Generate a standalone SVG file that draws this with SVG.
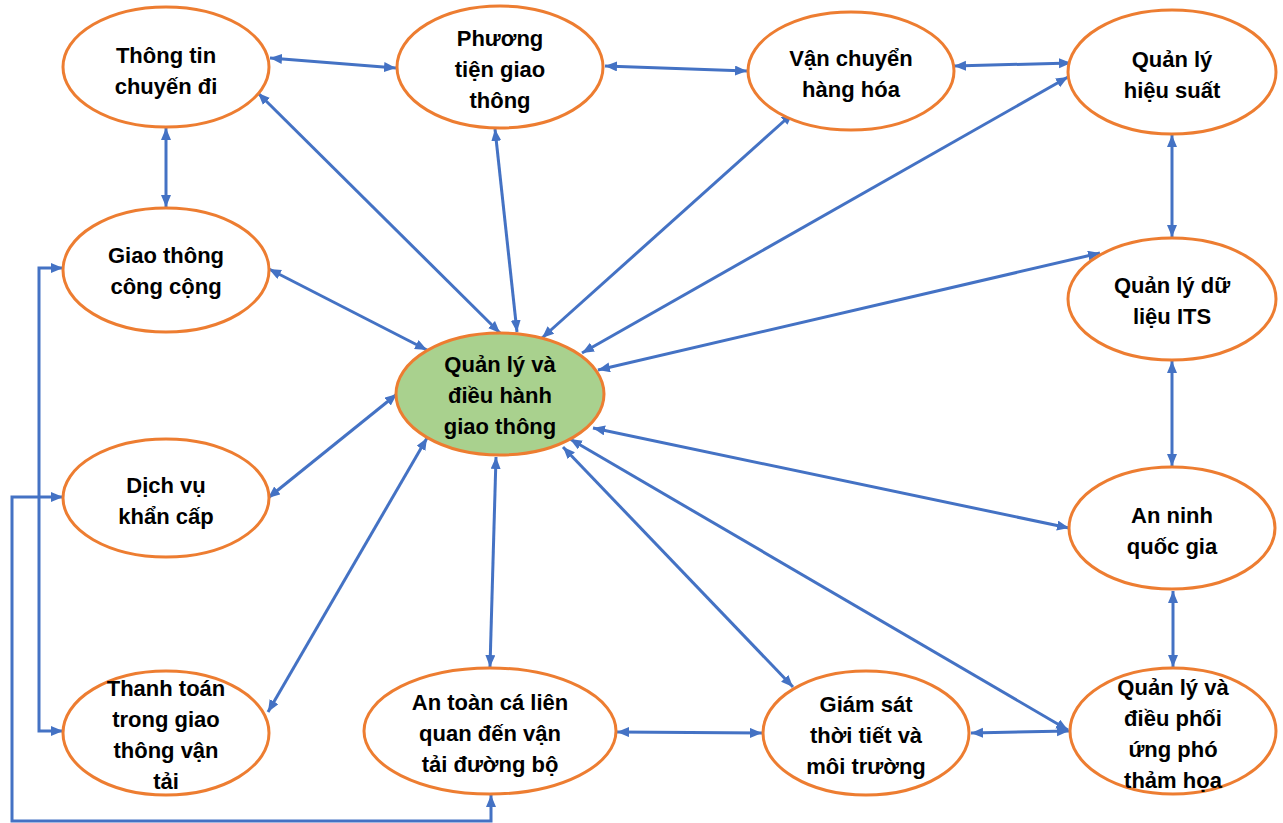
<svg xmlns="http://www.w3.org/2000/svg" width="1283" height="823" viewBox="0 0 1283 823">
<style>
.n ellipse{fill:#ffffff;stroke:#ed7d31;stroke-width:3}
#center ellipse{fill:#a9d18e}
.n text{font-family:"Liberation Sans",Arial,sans-serif;font-weight:bold;font-size:22px;fill:#000;text-anchor:middle}
#edges line,#edges path{stroke:#4472c4;stroke-width:3;fill:none;marker-start:url(#ah);marker-end:url(#ah)}
</style>
<defs>
<marker id="ah" markerUnits="userSpaceOnUse" markerWidth="13" markerHeight="11" refX="12" refY="5" orient="auto-start-reverse" viewBox="0 0 13 11">
<path d="M0,0 L12,5 L0,10 z" fill="#4472c4"/>
</marker>
</defs>
<rect width="1283" height="823" fill="#ffffff"/>
<g id="edges">
<line x1="270" y1="58" x2="396" y2="68"/>
<line x1="605" y1="66" x2="747" y2="71"/>
<line x1="954" y1="66" x2="1071" y2="63"/>
<line x1="166" y1="128" x2="166" y2="207"/>
<line x1="1172" y1="135" x2="1172" y2="237"/>
<line x1="1172" y1="361" x2="1172" y2="466"/>
<line x1="1173" y1="591" x2="1173" y2="667"/>
<line x1="617" y1="732" x2="762" y2="733"/>
<line x1="971" y1="733" x2="1069" y2="731"/>
<line x1="258" y1="93" x2="500" y2="333"/>
<line x1="495" y1="129" x2="517" y2="332"/>
<line x1="793" y1="113" x2="542" y2="338"/>
<line x1="1068" y1="77" x2="582" y2="353"/>
<line x1="1100" y1="253" x2="598" y2="370"/>
<line x1="269" y1="269" x2="427" y2="350"/>
<line x1="268" y1="498" x2="397" y2="394"/>
<line x1="268" y1="712" x2="427" y2="438"/>
<line x1="496" y1="457" x2="490" y2="667"/>
<line x1="563" y1="447" x2="793" y2="687"/>
<line x1="570" y1="439" x2="1068" y2="730"/>
<line x1="593" y1="428" x2="1069" y2="528"/>
<path d="M63,268 H39 V731 H63"/>
<path d="M63,497 H12 V821 H491 V795"/>
</g>
<g id="thongtin" class="n"><ellipse cx="166" cy="67" rx="103" ry="60"/><text x="166" y="63">Thông tin</text><text x="166" y="94">chuyến đi</text></g>
<g id="phuongtien" class="n"><ellipse cx="500" cy="67" rx="103" ry="61"/><text x="500" y="46">Phương</text><text x="500" y="77">tiện giao</text><text x="500" y="108">thông</text></g>
<g id="vanchuyen" class="n"><ellipse cx="851" cy="71" rx="103" ry="59"/><text x="851" y="66">Vận chuyển</text><text x="851" y="97">hàng hóa</text></g>
<g id="hieusuat" class="n"><ellipse cx="1172" cy="72" rx="104" ry="62"/><text x="1172" y="67">Quản lý</text><text x="1172" y="98">hiệu suất</text></g>
<g id="congcong" class="n"><ellipse cx="166" cy="270" rx="103" ry="62"/><text x="166" y="263">Giao thông</text><text x="166" y="294">công cộng</text></g>
<g id="dulieu" class="n"><ellipse cx="1172" cy="299" rx="104" ry="61"/><text x="1172" y="293">Quản lý dữ</text><text x="1172" y="324">liệu ITS</text></g>
<g id="center" class="n"><ellipse cx="500" cy="394" rx="104" ry="61"/><text x="500" y="372">Quản lý và</text><text x="500" y="403">điều hành</text><text x="500" y="434">giao thông</text></g>
<g id="khancap" class="n"><ellipse cx="166" cy="498" rx="103" ry="59"/><text x="166" y="493">Dịch vụ</text><text x="166" y="524">khẩn cấp</text></g>
<g id="anninh" class="n"><ellipse cx="1172" cy="528" rx="103" ry="61"/><text x="1172" y="523">An ninh</text><text x="1172" y="554">quốc gia</text></g>
<g id="thanhtoan" class="n"><ellipse cx="166" cy="733" rx="103" ry="62"/><text x="166" y="696">Thanh toán</text><text x="166" y="727">trong giao</text><text x="166" y="758">thông vận</text><text x="166" y="789">tải</text></g>
<g id="antoan" class="n"><ellipse cx="490" cy="731" rx="126" ry="63"/><text x="490" y="710">An toàn cá liên</text><text x="490" y="741">quan đến vận</text><text x="490" y="772">tải đường bộ</text></g>
<g id="giamsat" class="n"><ellipse cx="866" cy="733" rx="103" ry="62"/><text x="866" y="712">Giám sát</text><text x="866" y="743">thời tiết và</text><text x="866" y="774">môi trường</text></g>
<g id="thamhoa" class="n"><ellipse cx="1173" cy="731" rx="103" ry="63"/><text x="1173" y="695">Quản lý và</text><text x="1173" y="726">điều phối</text><text x="1173" y="757">ứng phó</text><text x="1173" y="788">thảm họa</text></g>
</svg>
